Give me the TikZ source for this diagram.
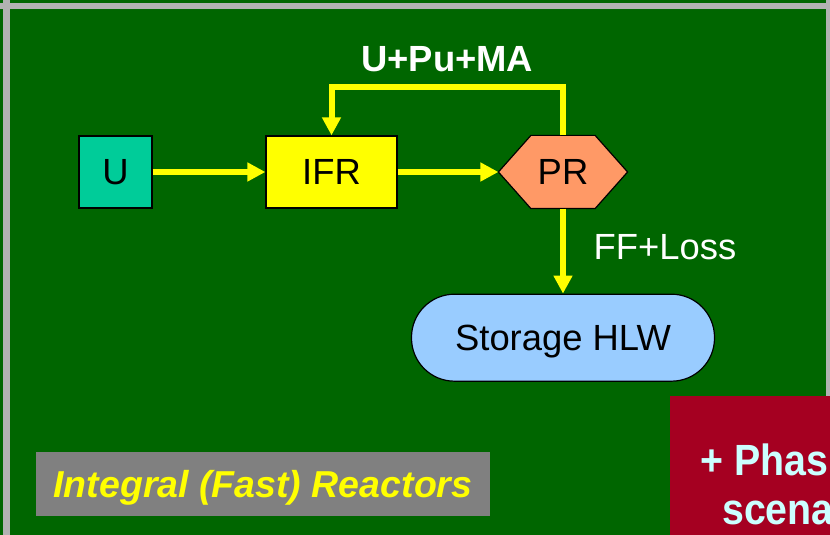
\documentclass[tikz,border=0pt]{standalone}
\usepackage{fontspec}
\setmainfont{Liberation Sans}
\newfontfamily\narrowsans[FakeStretch=0.9]{Liberation Sans}
\usetikzlibrary{arrows.meta,backgrounds,positioning}

\definecolor{slide}{HTML}{006600}
\definecolor{frame}{HTML}{B2B2B2}
\definecolor{flowyellow}{HTML}{FFFF00}
\definecolor{uranium}{HTML}{00CC99}
\definecolor{reproc}{HTML}{FF9966}
\definecolor{storage}{HTML}{99CCFF}
\definecolor{labelgray}{HTML}{808080}
\definecolor{phaseout}{HTML}{A50021}
\definecolor{phasetext}{HTML}{CCFFFF}

\begin{document}
\begin{tikzpicture}[x=1pt,y=1pt,>={Triangle[length=18pt,width=18pt]},
  box/.style={rectangle,draw=black,line width=1.2pt,minimum height=72pt,inner sep=0pt,
    text height=26pt,text depth=0pt,font=\fontsize{36.4}{40}\selectfont},
  flow/.style={->,draw=flowyellow,line width=6pt},
  lbl/.style={text=white,inner sep=0pt,font=\fontsize{36.4}{40}\selectfont}]
  \useasboundingbox (0,0) rectangle (830,535);
  \begin{pgfonlayer}{background}
	  % Slide frame
	  \fill[slide] (0,0) rectangle (830,535);
	  \fill[frame] (0,526) rectangle (830,532);
	  \fill[frame] (3,0) rectangle (10,535);
	  \fill[frame] (826,0) rectangle (830,535);
  \end{pgfonlayer}

  % Fuel cycle
  \node[box,fill=uranium,minimum width=73pt]     (U)   at (115.5,363)                    {U};
  \node[box,fill=flowyellow,minimum width=131pt] (IFR) [right of=U,node distance=216pt]  {IFR};
  \node[box,draw=none,minimum width=128pt]       (PR)  [right of=IFR,node distance=231.5pt] {PR};
  \node[box,fill=storage,minimum width=303pt,minimum height=87pt,rounded corners=43pt]
                                                 (HLW) [below of=PR,node distance=165.7pt] {Storage HLW};

  \begin{pgfonlayer}{background}
	  \filldraw[fill=reproc,draw=black,line width=1.2pt]
	  ([xshift=32.5pt]PR.north west) -- ([xshift=-32.5pt]PR.north east) -- (PR.east)
	  -- ([xshift=-32.5pt]PR.south east) -- ([xshift=32.5pt]PR.south west) -- (PR.west) -- cycle;
  \end{pgfonlayer}

  % Connecting edges
  \draw[flow] (U) -- (IFR);
  \draw[flow] (IFR) -- (PR);
  \draw[flow] (PR.north) -- ++(0,48) -| node[lbl,pos=0.25,anchor=base,yshift=15.7pt,
    font=\fontsize{36.4}{40}\bfseries] (recycle) {U+Pu+MA} (IFR.north);
  \draw[flow] (PR) -- node[lbl,anchor=base west,xshift=27.7pt,yshift=-8.9pt] (loss) {FF+Loss} (HLW);

  % Captions
  \node[fill=labelgray,minimum width=454pt,minimum height=64pt,inner sep=0pt,text height=28pt,text depth=0pt,
    text=flowyellow,font=\fontsize{37.5}{40}\bfseries\itshape] (title) at (263,51) {Integral (Fast) Reactors};
  \fill[phaseout] (670,0) rectangle (835,139);
  \node[anchor=base west,inner sep=0pt,text=phasetext,font=\narrowsans\fontsize{43.7}{48}\bfseries]
    (phase) at (700.3,59.3) {+ Phas};
  \node[anchor=base west,inner sep=0pt,text=phasetext,font=\narrowsans\fontsize{43.7}{48}\bfseries]
    (scenario) at (722,10) {scena};
\end{tikzpicture}
\end{document}
